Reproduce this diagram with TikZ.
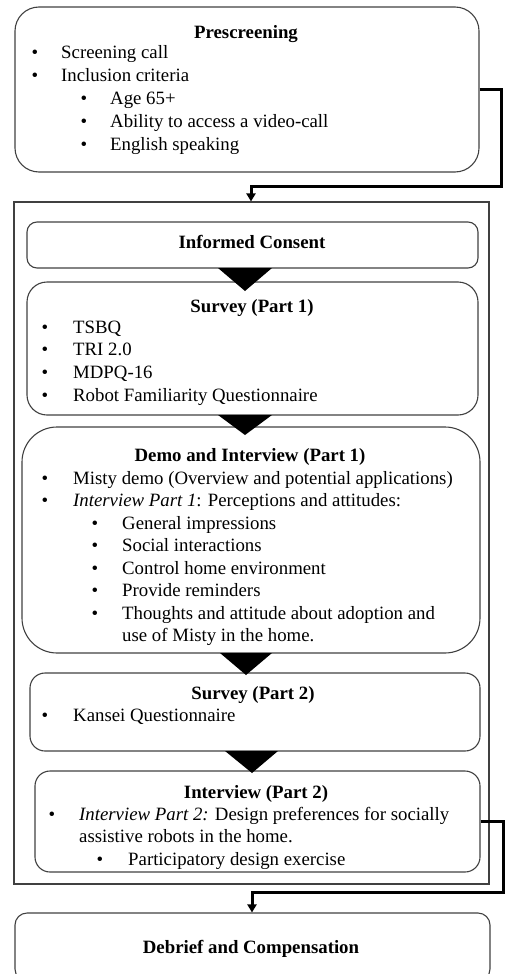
\documentclass[tikz,border=0pt]{standalone}
\usepackage{fontspec}
\setmainfont{Liberation Serif}
\usetikzlibrary{arrows.meta}
\definecolor{boxgray}{HTML}{404040}
\newcommand{\diagfont}{\fontsize{18.8}{22.5}\selectfont}
\tikzset{
  box/.style={draw=boxgray, line width=1.1pt, rounded corners=#1, inner sep=0pt},
  txt/.style={anchor=base west, inner sep=0pt},
  bul/.style={anchor=base, inner sep=0pt},
  ttl/.style={anchor=base, inner sep=0pt, font=\diagfont\bfseries},
  tri/.style={fill=black},
  conn/.style={line width=3pt, -{Triangle[width=9pt,length=8pt]}}
}
\begin{document}
\begin{tikzpicture}[x=1pt,y=-1pt,font=\diagfont]
\useasboundingbox (0,0) rectangle (505,974);
% boxes
\node[box=24pt, minimum width=464pt, minimum height=165pt] (pre) at (247,89.5) {};
\node[draw=boxgray, line width=1.1pt, inner sep=0pt, minimum width=475pt, minimum height=682pt] (outer) at (251.5,543) {};
\node[box=10pt, minimum width=451pt, minimum height=46pt] (ic) at (252.5,245) {};
\node[box=20pt, minimum width=451pt, minimum height=133pt] (s1) at (252.5,348.5) {};
\node[box=35pt, minimum width=458pt, minimum height=226pt] (demo) at (251,540) {};
\node[box=15pt, minimum width=450pt, minimum height=78pt] (s2) at (255,712) {};
\node[box=15pt, minimum width=445pt, minimum height=101pt] (i2) at (257.5,821.5) {};
\node[box=12pt, minimum width=475pt, minimum height=68pt] (deb) at (252.5,947) {};
% triangles
\fill[tri] (218,268) -- (272,268) -- (245,291) -- cycle;
\fill[tri] (218,415) -- (272,415) -- (245,435) -- cycle;
\fill[tri] (220,653) -- (272,653) -- (246,675) -- cycle;
\fill[tri] (225,751) -- (278,751) -- (252,773) -- cycle;
% prescreening
\node[ttl] (preT) at (246,38) {Prescreening};
\node[bul] (preB1) at (35,59) {•};
\node[txt] (preL1) at (61,59) {Screening call};
\node[bul] (preB2) at (35,81.75) {•};
\node[txt] (preL2) at (61,81.75) {Inclusion criteria};
\node[bul] (preB3) at (84,104.5) {•};
\node[txt] (preL3) at (110,104.5) {Age 65+};
\node[bul] (preB4) at (84,127.25) {•};
\node[txt] (preL4) at (110,127.25) {Ability to access a video-call};
\node[bul] (preB5) at (84,150) {•};
\node[txt] (preL5) at (110,150) {English speaking};
% informed consent
\node[ttl] (icT) at (252,248) {Informed Consent};
% survey 1
\node[ttl] (s1T) at (252,312) {Survey (Part 1)};
\node[bul] (s1B1) at (45,333) {•};
\node[txt] (s1L1) at (73,333) {TSBQ};
\node[bul] (s1B2) at (45,355.7) {•};
\node[txt] (s1L2) at (73,355.7) {TRI 2.0};
\node[bul] (s1B3) at (45,378.3) {•};
\node[txt] (s1L3) at (73,378.3) {MDPQ-16};
\node[bul] (s1B4) at (45,401) {•};
\node[txt] (s1L4) at (73,401) {Robot Familiarity Questionnaire};
% demo
\node[ttl] (demoT) at (250,461) {Demo and Interview (Part 1)};
\node[bul] (dB1) at (45,484) {•};
\node[txt] (dL1) at (73,484) {Misty demo (Overview and potential applications)};
\node[bul] (dB2) at (45,506.5) {•};
\node[txt] (dL2) at (73,506.5) {\textit{Interview Part 1}: Perceptions and attitudes:};
\node[bul] (dB3) at (95,529) {•};
\node[txt] (dL3) at (122,529) {General impressions};
\node[bul] (dB4) at (95,551.5) {•};
\node[txt] (dL4) at (122,551.5) {Social interactions};
\node[bul] (dB5) at (95,574) {•};
\node[txt] (dL5) at (122,574) {Control home environment};
\node[bul] (dB6) at (95,596.5) {•};
\node[txt] (dL6) at (122,596.5) {Provide reminders};
\node[bul] (dB7) at (95,619) {•};
\node[txt] (dL7) at (122,619) {Thoughts and attitude about adoption and};
\node[txt] (dL8) at (122,641.5) {use of Misty in the home.};
% survey 2
\node[ttl] (s2T) at (253,699) {Survey (Part 2)};
\node[bul] (s2B1) at (45,721) {•};
\node[txt] (s2L1) at (73,721) {Kansei Questionnaire};
% interview 2
\node[ttl] (i2T) at (256,798) {Interview (Part 2)};
\node[bul] (i2B1) at (52,820) {•};
\node[txt] (i2L1) at (79,820) {\textit{Interview Part 2:} Design preferences for socially};
\node[txt] (i2L2) at (79,842.5) {assistive robots in the home.};
\node[bul] (i2B2) at (100,865) {•};
\node[txt] (i2L3) at (128,865) {Participatory design exercise};
% debrief
\node[ttl] (debT) at (251,953) {Debrief and Compensation};
% connectors
\coordinate (c1a) at (501,89.5);
\coordinate (c1b) at (501,186);
\coordinate (c1c) at (251,186);
\draw[conn] (pre.east) -- (c1a) -- (c1b) -- (c1c) -- (outer.north -| c1c);
\coordinate (c2a) at (503,821.5);
\coordinate (c2b) at (503,892);
\coordinate (c2c) at (252,892);
\draw[conn] (i2.east) -- (c2a) -- (c2b) -- (c2c) -- (deb.north -| c2c);
\end{tikzpicture}
\end{document}
